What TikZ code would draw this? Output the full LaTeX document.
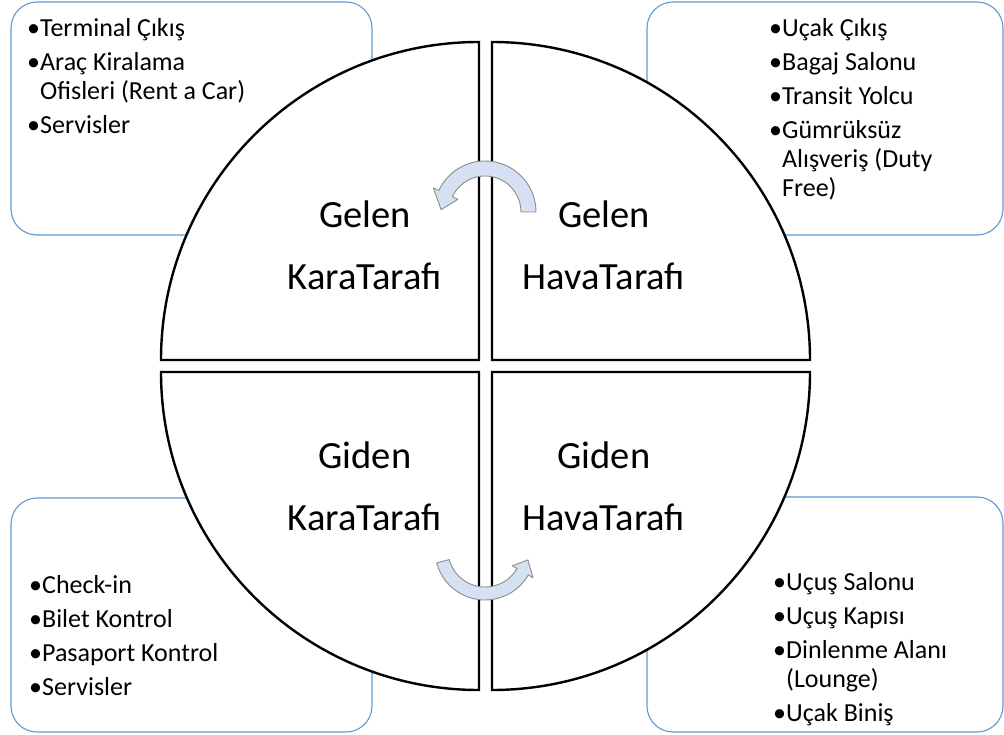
\documentclass[tikz,border=0pt]{standalone}
\usepackage{fontspec}
\setmainfont{Carlito}
\usetikzlibrary{calc}

\definecolor{boxblue}{RGB}{91,155,213}
\definecolor{arrowfill}{RGB}{213,225,242}
\definecolor{arrowedge}{RGB}{140,140,140}

\tikzset{
  infobox/.style={draw=boxblue, line width=1.1pt, rounded corners=26pt, fill=white},
  sector/.style={draw=black, line width=2.4pt, fill=white, line join=miter},
  cyclearrow/.style={fill=arrowfill, draw=arrowedge, line width=0.9pt, line join=round},
  itemlist/.style={anchor=base west, inner sep=0pt, font=\fontsize{26}{29}\selectfont},
  quadlabel/.style={anchor=base, inner sep=0pt, font=\fontsize{38.5}{62}\selectfont},
}

\begin{document}
\begin{tikzpicture}[x=1pt, y=-1pt]
  \useasboundingbox (0,0) rectangle (1004,735);

  % corner boxes with the item lists
  \draw[infobox] (11,2) rectangle (372,235);
  \draw[infobox] (647,2) rectangle (1003,235);
  \draw[infobox] (11,498) rectangle (372,732);
  \draw[infobox] (647,497) rectangle (1003,732);

  \node[itemlist] (tl-list) at (27,37)
    {\begin{tabular}[t]{@{}l@{}l@{}}•&Terminal Çıkış\\[5pt]
      •&Araç Kiralama\\ &Ofisleri (Rent a Car)\\[5pt]
      •&Servisler\end{tabular}};
  \node[itemlist] (tr-list) at (769,37)
    {\begin{tabular}[t]{@{}l@{}l@{}}•&Uçak Çıkış\\[5pt]
      •&Bagaj Salonu\\[5pt]
      •&Transit Yolcu\\[5pt]
      •&Gümrüksüz\\ &Alışveriş (Duty\\ &Free)\end{tabular}};
  \node[itemlist] (bl-list) at (29,593)
    {\begin{tabular}[t]{@{}l@{}l@{}}•&Check-in\\[5pt]
      •&Bilet Kontrol\\[5pt]
      •&Pasaport Kontrol\\[5pt]
      •&Servisler\end{tabular}};
  \node[itemlist] (br-list) at (773,590)
    {\begin{tabular}[t]{@{}l@{}l@{}}•&Uçuş Salonu\\[5pt]
      •&Uçuş Kapısı\\[5pt]
      •&Dinlenme Alanı\\ &(Lounge)\\[5pt]
      •&Uçak Biniş\end{tabular}};

  % four quarter sectors of the circle
  \coordinate (ctl) at (479,360);
  \coordinate (ctr) at (492,360);
  \coordinate (cbl) at (479,372);
  \coordinate (cbr) at (492,372);
  \draw[sector] (ctl) -- ++(180:318) arc[start angle=180, end angle=270, radius=318] -- cycle;
  \draw[sector] (ctr) -- ++(270:318) arc[start angle=270, end angle=360, radius=318] -- cycle;
  \draw[sector] (cbl) -- ++(90:318) arc[start angle=90, end angle=180, radius=318] -- cycle;
  \draw[sector] (cbr) -- ++(0:318) arc[start angle=0, end angle=90, radius=318] -- cycle;

  % quadrant labels
  \node[quadlabel] (gelen-kara) at (365,228)
    {\begin{tabular}[t]{@{}c@{}}Gelen\\KaraTarafı\end{tabular}};
  \node[quadlabel] (gelen-hava) at (604,228)
    {\begin{tabular}[t]{@{}c@{}}Gelen\\HavaTarafı\end{tabular}};
  \node[quadlabel] (giden-kara) at (365,468)
    {\begin{tabular}[t]{@{}c@{}}Giden\\KaraTarafı\end{tabular}};
  \node[quadlabel] (giden-hava) at (604,468)
    {\begin{tabular}[t]{@{}c@{}}Giden\\HavaTarafı\end{tabular}};

  % curved arrows across the middle gap
  \coordinate (T) at (485,212);
  \draw[cyclearrow] ($(T)+(0:51)$) arc[start angle=0, end angle=-155, radius=51]
    -- ($(T)+(-155:57)$) -- ($(T)+(-177:44)$) -- ($(T)+(-155:30)$)
    -- ($(T)+(-155:36)$) arc[start angle=-155, end angle=0, radius=36] -- cycle;

  \coordinate (B) at (485,550);
  \draw[cyclearrow] ($(B)+(165:50)$) arc[start angle=165, end angle=30, radius=50]
    -- ($(B)+(30:55.5)$) -- ($(B)+(13:44)$) -- ($(B)+(30:31.5)$)
    -- ($(B)+(30:37)$) arc[start angle=30, end angle=165, radius=37] -- cycle;
\end{tikzpicture}
\end{document}
